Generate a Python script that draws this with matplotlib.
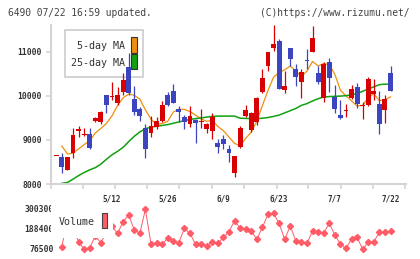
import numpy as np
import pandas as pd
import matplotlib
matplotlib.use("Agg")
import matplotlib.pyplot as plt
from matplotlib.patches import Rectangle

# daily prices, oldest first
opens = [8630, 8610, 8325, 8710, 9210, 9115, 9130, 9432, 9410, 10005,
         9975, 9825, 10090, 10640, 9922, 9690, 9275, 9160, 9280, 9432,
         10012, 10103, 9696, 9515, 9357, 9455, 9395, 9244, 9206, 8927,
         9017, 8791, 8256, 8844, 9545, 9221, 9394, 10088, 10676, 11083,
         11233, 10125, 11083, 10600, 10314, 10800, 10985, 10517, 9952, 10759,
         9975, 9560, 9650, 9952, 10193, 9765, 9786, 10035, 9809, 9673, 10517]
highs = [8640, 8710, 8615, 9275, 9310, 9260, 9260, 9510, 9660, 10010,
         10315, 10200, 10517, 10955, 10216, 9750, 9357, 9537, 9510, 9877,
         10088, 10261, 9764, 9560, 9764, 9477, 9688, 9372, 9598, 9017,
         9108, 8882, 8640, 9311, 9786, 9636, 9975, 10593, 10990, 11595,
         11294, 10555, 11090, 10706, 10615, 11053, 11572, 10668, 10766, 10864,
         10238, 9899, 9809, 10238, 10291, 9847, 10427, 10367, 10110, 10012, 10668]
lows = [8630, 8255, 8320, 8600, 9070, 9080, 8785, 9400, 9350, 9615,
        9900, 9786, 10012, 10012, 9560, 9430, 8595, 9070, 9250, 9410,
        9764, 9824, 9410, 9250, 9296, 8935, 9259, 9146, 9010, 8693,
        8784, 8505, 8150, 8806, 9522, 9183, 9334, 10050, 10563, 11015,
        10148, 10050, 10676, 10223, 9952, 10615, 10985, 10261, 9862, 10088,
        9613, 9470, 9522, 9930, 9726, 9477, 9764, 9900, 9138, 9387, 10110]
closes = [8635, 8390, 8610, 9110, 9225, 9125, 8820, 9492, 9636, 9780,
          9985, 10005, 10350, 10065, 9636, 9545, 8790, 9310, 9425, 9786,
          9786, 9839, 9628, 9410, 9537, 9387, 9405, 9357, 9522, 8844,
          8897, 8693, 8633, 9274, 9673, 9598, 9937, 10389, 10985, 11181,
          10148, 10216, 10826, 10427, 10540, 10780, 11301, 10314, 10713, 10404,
          9696, 9500, 9665, 10148, 9816, 9775, 10367, 10110, 9357, 9922, 10110]

# first 5-day MA points need days before the window
ma5_head = [np.nan, 8860, 8680, 8700]
ma25 = [np.nan, 8015, 8035, 8110, 8190, 8260, 8320, 8370, 8450, 8560,
        8660, 8740, 8830, 8960, 9080, 9180, 9250, 9290, 9305, 9325,
        9345, 9375, 9405, 9435, 9462, 9480, 9495, 9515, 9530, 9537,
        9537, 9537, 9537, 9490, 9485, 9480, 9477, 9490, 9505, 9530,
        9560, 9610, 9660, 9710, 9780, 9820, 9880, 9930, 9970, 9980,
        9985, 9990, 10000, 10020, 10050, 10100, 10150, 10200, 10250, 10260, 10262]

volume = [np.nan, 91000, 250000, 190000, 119000, 76500, 85500, 150000, 113400, 170000,
          205000, 166000, 231000, 268400, 184500, 166000, 300300, 106000, 113400, 104500,
          138000, 124600, 113400, 194000, 166000, 104500, 106000, 96600, 119000, 110000,
          143600, 175000, 236500, 194000, 188400, 180600, 132400, 199600, 272300, 278000,
          222000, 132400, 207000, 123000, 115600, 110000, 178900, 171600, 167700, 222000,
          156500, 106000, 82100, 132400, 143600, 76500, 115600, 119000, 171600, 171600, 177200]

date_idx = [10, 20, 30, 40, 50, 60]
date_labels = ["5/12", "5/26", "6/9", "6/23", "7/7", "7/22"]
price_ticks = [8000, 9000, 10000, 11000]
vol_ticks = [76500, 188400, 300300]

RED = "#d80000"
BLUE = "#3c44c0"
ORANGE = "#f0900a"
GREEN = "#10a010"
VOLC = "#ff5c68"
AXC = "#d4d4d4"
TXT = "#333333"
MONO = "DejaVu Sans Mono"

W, H = 420, 259
def fx(px):
    return px / W
def fy(py):
    return 1 - py / H

df = pd.DataFrame({"o": opens, "h": highs, "l": lows, "c": closes})
x = np.arange(len(df))
ma5 = df["c"].rolling(5).mean().to_numpy()
ma5[:len(ma5_head)] = ma5_head

fig = plt.figure(figsize=(4.2, 2.59), dpi=100)
ax = fig.add_axes([fx(51), fy(184), fx(406) - fx(51), fy(25) - fy(184)])
axv = fig.add_axes([fx(51), fy(254), fx(406) - fx(51), fy(204) - fy(254)])

up = df["c"] >= df["o"]
cols = np.where(up, RED, BLUE)
body_lo = np.minimum(df["o"], df["c"])
body_h = np.maximum((df["c"] - df["o"]).abs(), 25)

ax.vlines(x, df["l"], df["h"], colors=cols, lw=0.9, zorder=3)
ax.bar(x, body_h, bottom=body_lo, width=0.88, color=cols, lw=0, zorder=4)
ax.plot(x, ma5, color=ORANGE, lw=0.9, zorder=2)
ax.plot(x, ma25, color=GREEN, lw=1.1, zorder=2)

xmin, xmax = -0.95, 62.78
ax.set_xlim(xmin, xmax)
ax.set_ylim(8000, 11600)
for s in ["top", "right"]:
    ax.spines[s].set_visible(False)
for s in ["left", "bottom"]:
    ax.spines[s].set_color(AXC)
    ax.spines[s].set_linewidth(1.5)
ax.set_yticks(price_ticks)
ax.set_yticklabels([str(v) for v in price_ticks], fontfamily=MONO,
                   fontweight="bold", fontsize=5.8, color=TXT)
ax.set_xticks([-0.95, 4.74, 10.54, 16.23, 22.08, 27.9, 33.75, 39.56,
               45.24, 51.06, 56.91, 62.6])
ax.set_xticklabels([])
ax.tick_params(axis="both", color=AXC, width=1.2, length=3.5, pad=3)
for i, lab in zip(date_idx, date_labels):
    ax.text(i, -0.094, lab, transform=ax.get_xaxis_transform(), ha="center",
            va="center", fontfamily=MONO, fontweight="bold", fontsize=5.5,
            color=TXT)

# price legend box (candles sit on top of it)
ax.add_patch(Rectangle((fx(65), fy(77)), fx(143) - fx(65), fy(30) - fy(77),
                       transform=fig.transFigure, fc="white", ec="#cccccc",
                       lw=1.2, zorder=1, clip_on=False))
ax.text(fx(125), fy(46), "5-day MA", transform=fig.transFigure, ha="right",
        va="center", fontfamily=MONO, fontsize=7.2, color=TXT, zorder=1.5)
ax.text(fx(125), fy(62.7), "25-day MA", transform=fig.transFigure, ha="right",
        va="center", fontfamily=MONO, fontsize=7.2, color=TXT, zorder=1.5)
ax.add_patch(Rectangle((fx(131), fy(53.3)), fx(137) - fx(131), fy(37.3) - fy(53.3),
                       transform=fig.transFigure, fc=ORANGE, ec="#333333",
                       lw=0.8, zorder=1.5, clip_on=False))
ax.add_patch(Rectangle((fx(131), fy(69.3)), fx(137) - fx(131), fy(54.3) - fy(69.3),
                       transform=fig.transFigure, fc=GREEN, ec="#333333",
                       lw=0.8, zorder=1.5, clip_on=False))

# volume panel
axv.plot(x, volume, color=VOLC, lw=0.7, marker="D", markersize=3.1,
         mec=VOLC, mfc=VOLC, zorder=2)
axv.set_xlim(xmin, xmax)
axv.set_ylim(50200, 330000)
axv.axis("off")
axv.add_patch(Rectangle((xmin, 137000), 11.1, 200000, fc="white", ec="none",
                        zorder=5))
axv.text(fx(58.3), fy(221.7), "Volume", transform=fig.transFigure, ha="left",
         va="center", fontfamily=MONO, fontsize=7.2, color=TXT, zorder=6)
axv.add_patch(Rectangle((fx(101.7), fy(228)), fx(107.3) - fx(101.7), fy(213) - fy(228),
                        transform=fig.transFigure, fc=VOLC, ec="#444444",
                        lw=0.8, zorder=6, clip_on=False))
for v in vol_ticks:
    axv.text(0.007, v, str(v), transform=axv.get_yaxis_transform(), ha="right",
             va="center", fontfamily=MONO, fontweight="bold", fontsize=5.8,
             color=TXT, clip_on=False)

fig.text(fx(8), fy(12.5), "6490 07/22 16:59 updated.", ha="left", va="center",
         fontfamily=MONO, fontsize=6.9, color="#444444")
fig.text(fx(410), fy(12.5), "(C)https://www.rizumu.net/", ha="right", va="center",
         fontfamily=MONO, fontsize=6.9, color="#444444")

fig.savefig("out.png", dpi=100)
